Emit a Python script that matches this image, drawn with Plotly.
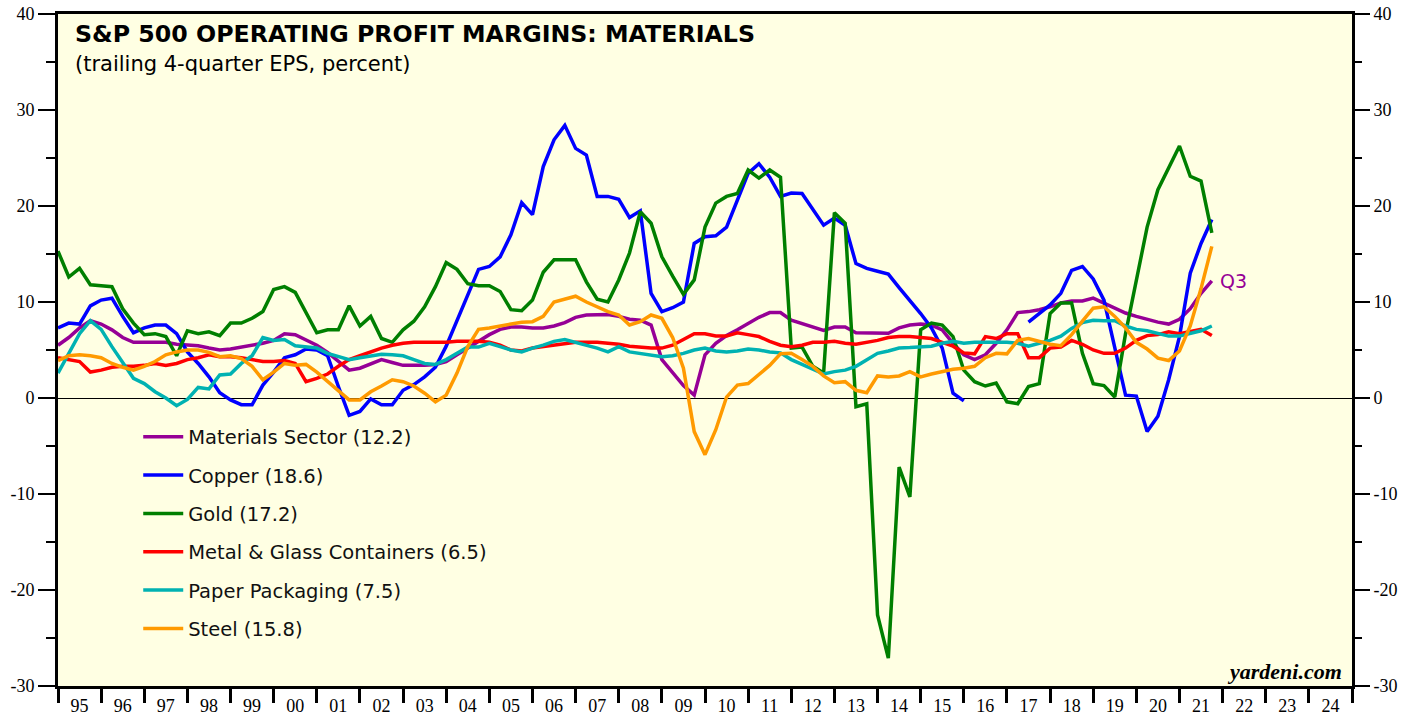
import plotly.graph_objects as go
import pandas as pd

# Quarterly observations, 1994Q4 .. 2021Q3 (plotted at end of quarter)
quarters = pd.period_range("1994Q4", "2021Q3", freq="Q")
xq = [p.year + p.quarter / 4 for p in quarters]

materials = [5.5, 6.3, 7.3, 8.05, 7.7, 7.1, 6.3, 5.8, 5.8, 5.8,
             5.8, 5.6, 5.5, 5.45, 5.2, 5.0, 5.1, 5.3, 5.5, 5.7,
             6.0, 6.7, 6.6, 6.0, 5.5, 4.75, 3.8, 2.9, 3.1, 3.6,
             4.0, 3.7, 3.4, 3.4, 3.4, 3.5, 3.8, 4.5, 5.2, 5.9,
             6.6, 7.15, 7.4, 7.4, 7.3, 7.3, 7.5, 7.85, 8.4, 8.65,
             8.7, 8.7, 8.5, 8.2, 8.1, 7.6, 4.0, 2.6, 1.3, 0.3,
             4.5, 5.7, 6.5, 7.1, 7.8, 8.4, 8.9, 8.9, 8.1, 7.75,
             7.4, 7.05, 7.4, 7.4, 6.8, 6.8, 6.8, 6.75, 7.3, 7.6,
             7.7, 7.6, 7.1, 5.7, 4.5, 4.0, 4.5, 5.7, 7.1, 8.9,
             9.0, 9.2, 9.5, 9.9, 10.1, 10.1, 10.4, 9.9, 9.3, 8.85,
             8.5, 8.2, 7.9, 7.7, 8.2, 9.3, 10.9, 12.2]

copper = [7.3, 7.8, 7.7, 9.6, 10.2, 10.4, 8.5, 6.8, 7.3, 7.6,
          7.6, 6.7, 4.8, 3.6, 2.2, 0.55, -0.2, -0.7, -0.7, 1.35,
          2.7, 4.2, 4.5, 5.1, 5.0, 4.4, 1.2, -1.8, -1.4, -0.1,
          -0.7, -0.7, 0.8, 1.4, 2.2, 3.2, 5.4, 8.0, 10.7, 13.4,
          13.7, 14.7, 17.0, 20.35, 19.1, 24.1, 26.9, 28.4, 26.0, 25.3,
          21.0, 21.0, 20.7, 18.8, 19.5, 10.9, 9.0, 9.4, 10.0, 16.1,
          16.8, 16.9, 17.8, 20.6, 23.4, 24.4, 23.0, 21.0, 21.35, 21.3,
          19.6, 18.0, 18.75, 18.0, 14.0, 13.5, 13.2, 12.9, 11.5, 10.2,
          8.8, 7.3, 5.2, 0.5, -0.3, None, None, None, None, None,
          7.9, 8.8, 9.7, 10.9, 13.3, 13.7, 12.4, 10.2, 5.35, 0.3,
          0.2, -3.5, -1.9, 1.9, 6.4, 13.0, 16.1, 18.6]

gold = [15.3, 12.6, 13.5, 11.8, 11.7, 11.6, 9.3, 7.8, 6.6, 6.7,
        6.4, 4.4, 7.0, 6.7, 6.9, 6.5, 7.8, 7.8, 8.3, 9.0,
        11.3, 11.6, 11.0, 8.8, 6.8, 7.1, 7.1, 9.6, 7.5, 8.5,
        6.2, 5.8, 7.1, 8.0, 9.5, 11.6, 14.1, 13.4, 11.9, 11.7,
        11.7, 11.1, 9.2, 9.1, 10.2, 13.1, 14.4, 14.4, 14.4, 12.1,
        10.3, 10.0, 12.3, 15.1, 19.4, 18.2, 14.7, 12.7, 10.8, 12.3,
        17.8, 20.3, 21.0, 21.3, 23.75, 22.9, 23.75, 23.0, 5.2, 5.3,
        3.3, 2.6, 19.3, 18.2, -0.9, -0.6, -22.6, -27.1, -7.2, -10.3,
        7.1, 7.8, 7.6, 6.4, 2.9, 1.7, 1.25, 1.55, -0.4, -0.6,
        1.2, 1.5, 8.8, 9.9, 9.9, 4.65, 1.5, 1.3, 0.1, 6.7,
        12.3, 17.8, 21.7, 23.9, 26.25, 23.1, 22.6, 17.2]

metal_glass = [4.2, 4.0, 3.8, 2.7, 2.9, 3.2, 3.3, 3.3, 3.4, 3.6,
               3.4, 3.6, 4.0, 4.2, 4.5, 4.3, 4.3, 4.2, 4.0, 3.8,
               3.8, 3.9, 3.6, 1.7, 2.05, 2.5, 3.3, 4.0, 4.4, 4.8,
               5.2, 5.5, 5.7, 5.8, 5.8, 5.8, 5.8, 5.9, 5.9, 5.9,
               5.8, 5.5, 5.0, 4.9, 5.2, 5.35, 5.5, 5.7, 5.8, 5.8,
               5.8, 5.7, 5.6, 5.4, 5.3, 5.2, 5.2, 5.5, 6.1, 6.7,
               6.7, 6.45, 6.45, 6.8, 6.6, 6.4, 5.9, 5.5, 5.35, 5.5,
               5.8, 5.8, 5.9, 5.7, 5.6, 5.8, 6.0, 6.3, 6.4, 6.4,
               6.3, 6.2, 5.8, 5.4, 4.7, 4.6, 6.4, 6.2, 6.7, 6.7,
               4.2, 4.2, 5.2, 5.3, 6.0, 5.6, 5.0, 4.65, 4.65, 5.2,
               6.0, 6.5, 6.6, 6.9, 6.7, 6.9, 7.15, 6.5]

paper_pack = [2.6, 4.65, 6.7, 8.05, 7.15, 5.35, 3.7, 2.05, 1.5, 0.65,
              0.0, -0.8, -0.15, 1.1, 0.95, 2.4, 2.5, 3.6, 4.4, 6.3,
              6.0, 6.1, 5.45, 5.35, 5.2, 4.65, 4.3, 4.0, 4.2, 4.4,
              4.55, 4.5, 4.4, 4.0, 3.6, 3.5, 4.0, 4.65, 5.3, 5.3,
              5.7, 5.35, 5.0, 4.8, 5.2, 5.5, 5.9, 6.1, 5.8, 5.5,
              5.2, 4.8, 5.35, 4.8, 4.65, 4.5, 4.3, 4.4, 4.65, 5.0,
              5.2, 4.9, 4.8, 4.9, 5.1, 5.0, 4.8, 4.7, 4.0, 3.5,
              3.0, 2.5, 2.75, 2.9, 3.3, 4.0, 4.65, 4.9, 5.2, 5.25,
              5.3, 5.4, 5.7, 5.9, 5.7, 5.8, 5.8, 5.8, 5.8, 5.7,
              5.4, 5.7, 6.0, 6.45, 7.25, 7.85, 8.1, 8.05, 8.05, 7.5,
              7.15, 7.0, 6.7, 6.45, 6.45, 6.7, 7.0, 7.5]

steel = [3.9, 4.4, 4.5, 4.4, 4.2, 3.6, 3.2, 2.9, 3.3, 3.8,
         4.5, 4.8, 5.0, 5.0, 4.75, 4.3, 4.4, 4.1, 3.3, 1.9,
         2.7, 3.6, 3.4, 3.5, 2.7, 1.7, 0.8, -0.2, -0.2, 0.65,
         1.25, 1.9, 1.7, 1.25, 0.5, -0.4, 0.3, 2.6, 5.35, 7.15,
         7.3, 7.5, 7.7, 7.9, 7.95, 8.5, 10.0, 10.3, 10.6, 10.0,
         9.45, 9.0, 8.65, 7.6, 7.95, 8.65, 8.3, 6.3, 3.1, -3.5,
         -5.9, -3.3, 0.1, 1.35, 1.5, 2.4, 3.4, 4.6, 4.65, 4.0,
         3.3, 2.3, 1.6, 1.7, 0.8, 0.55, 2.3, 2.2, 2.3, 2.75,
         2.2, 2.5, 2.75, 3.0, 3.1, 3.3, 4.2, 4.65, 4.6, 6.0,
         6.2, 5.9, 5.6, 5.45, 6.6, 8.0, 9.35, 9.5, 8.5, 7.3,
         5.8, 5.1, 4.15, 3.9, 4.9, 7.5, 11.4, 15.8]

series_names = ["Materials Sector (12.2)", "Copper (18.6)", "Gold (17.2)",
                "Metal & Glass Containers (6.5)", "Paper Packaging (7.5)",
                "Steel (15.8)"]
series_values = [materials, copper, gold, metal_glass, paper_pack, steel]
series_colors = ["#960096", "#0000FF", "#007F00", "#FF0000", "#00B2B2", "#FF9A00"]

year_ticks = list(range(1995, 2026))
label_pos = [y + 0.5 for y in range(1995, 2025)]
label_text = [f"{y % 100:02d}" for y in range(1995, 2025)]
y_major = list(range(-30, 41, 10))
y_major_text = [str(v) for v in y_major]
y_minor = list(range(-25, 40, 10))

fig = go.Figure()
for name, vals, col in zip(series_names, series_values, series_colors):
    fig.add_trace(go.Scatter(x=xq, y=vals, mode="lines", name=name,
                             line=dict(color=col, width=3.5),
                             legendgroup=name, connectgaps=False))

# helper trace for the right-hand axis
fig.add_trace(go.Scatter(x=[1995, 2025], y=[-30, 40], yaxis="y2", mode="lines",
                         line=dict(width=0), opacity=0, showlegend=False,
                         hoverinfo="skip"))

SERIF = "Liberation Serif, Times New Roman, serif"
tick_font = dict(family=SERIF, size=18, color="black")

fig.update_layout(
    width=1419, height=717,
    margin=dict(l=58, r=67, t=14, b=31, autoexpand=False),
    paper_bgcolor="white", plot_bgcolor="#FFFFE3",
    showlegend=True,
    legend=dict(x=0.062, y=0.3995, xanchor="left", yanchor="top",
                bgcolor="rgba(0,0,0,0)", tracegroupgap=10,
                font=dict(family="DejaVu Sans", size=19.5, color="#111"),
                itemwidth=40),
    xaxis=dict(range=[1995, 2025], tickvals=label_pos, ticktext=label_text,
               ticks="", showgrid=False, zeroline=False, automargin=False,
               showline=True, linewidth=3, linecolor="black", mirror=True,
               tickfont=tick_font, ticklabelstandoff=1,
               ticklabeloverflow="allow",
               minor=dict(tickvals=year_ticks, ticks="outside", ticklen=14,
                          tickwidth=2.5, tickcolor="black", showgrid=False)),
    yaxis=dict(range=[-30, 40], tickvals=y_major, ticktext=y_major_text,
               ticks="outside", ticklen=17, tickwidth=1.5, tickcolor="black",
               showgrid=False, zeroline=True, zerolinecolor="black",
               zerolinewidth=1.2, showline=True, linewidth=3, automargin=False,
               linecolor="black", mirror=True, tickfont=tick_font,
               ticklabeloverflow="allow",
               minor=dict(tickvals=y_minor, ticks="outside", ticklen=9,
                          tickwidth=1.5, tickcolor="black", showgrid=False)),
    yaxis2=dict(range=[-30, 40], overlaying="y", side="right",
                tickvals=y_major, ticktext=y_major_text, automargin=False,
                ticks="outside", ticklen=17, tickwidth=1.5, tickcolor="black",
                showgrid=False, zeroline=False, showline=False,
                tickfont=tick_font, ticklabeloverflow="allow",
                minor=dict(tickvals=y_minor, ticks="outside", ticklen=9,
                           tickwidth=1.5, tickcolor="black", showgrid=False)),
)

fig.add_annotation(x=0.0116, y=0.970, xref="paper", yref="paper",
                   xanchor="left", yanchor="middle", showarrow=False,
                   text="<b>S&P 500 OPERATING PROFIT MARGINS: MATERIALS</b>",
                   font=dict(family="DejaVu Sans", size=23.7, color="black"))
fig.add_annotation(x=0.0116, y=0.925, xref="paper", yref="paper",
                   xanchor="left", yanchor="middle", showarrow=False,
                   text="(trailing 4-quarter EPS, percent)",
                   font=dict(family="DejaVu Sans", size=21, color="black"))
fig.add_annotation(x=xq[-1], y=materials[-1], xref="x", yref="y",
                   xanchor="left", yanchor="middle", xshift=6, showarrow=False,
                   text="Q3", font=dict(family="DejaVu Sans", size=19, color="#960096"))
fig.add_annotation(x=1, y=0.022, xref="paper", yref="paper",
                   xanchor="right", yanchor="middle", xshift=-8, showarrow=False,
                   text="<b><i>yardeni.com</i></b>",
                   font=dict(family=SERIF, size=22, color="black"))

# place the figure flush with the window's top-left corner, no mode bar
fig.write_html("out.html",
               config={"displayModeBar": False},
               post_script="document.body.style.margin='0px';"
                           "document.body.style.overflow='hidden';")
